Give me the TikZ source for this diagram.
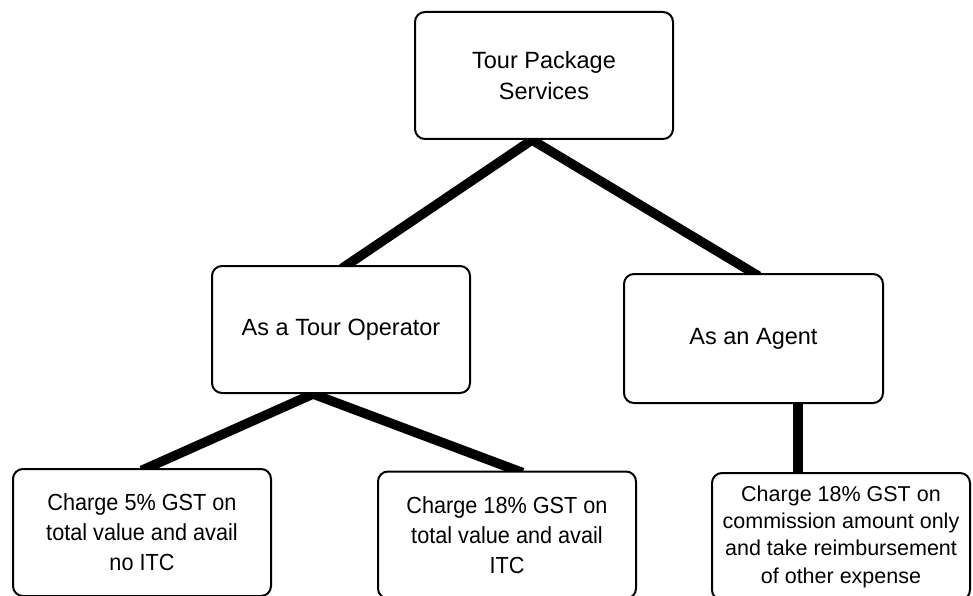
\documentclass[tikz,border=0pt]{standalone}
\usepackage{fontspec}
\setmainfont{Liberation Sans}
\newfontfamily\narrowfont[FakeStretch=0.93]{Liberation Sans}
\usetikzlibrary{backgrounds}

\tikzset{
  box/.style={draw=black, line width=2pt, rounded corners=10pt, fill=white,
    minimum width=258pt, minimum height=127pt, align=center, inner sep=0pt},
  link/.style={line width=9.5pt, shorten <=-6pt, shorten >=-6pt}
}

\begin{document}
\begin{tikzpicture}[x=1pt, y=-1pt]
\useasboundingbox (0,0) rectangle (973,596);

\node (tour) at (544,75.5) [box, font=\fontsize{23.5}{30.5}\selectfont]{Tour Package\\Services};
\node (oper) at (341,329.5) [box, font=\fontsize{23.5}{30}\selectfont]{As a Tour Operator};
\node (agent) at (753.5,338.5) [box, minimum width=259pt, minimum height=129pt, font=\fontsize{23.5}{30}\selectfont]{As an Agent};

\node (five) at (142,532.5) [box, font=\narrowfont\fontsize{23.3}{30}\selectfont]{Charge 5\% GST on\\total value and avail\\no ITC};
\node (eighteen) at (507,535) [box, font=\narrowfont\fontsize{23.3}{30}\selectfont]{Charge 18\% GST on\\total value and avail\\ITC};
\node (comm) at (841,536.5) [box, font=\fontsize{21.5}{27.3}\selectfont]{Charge 18\% GST on\\commission amount only\\and take reimbursement\\of other expense};

% thick links behind the boxes
\begin{scope}[on background layer]
\draw[link] ([xshift=6pt]oper.north) -- ([xshift=-12pt]tour.south) -- (agent.north);
\draw[link] ([xshift=5pt]five.north) -- ([xshift=-28pt]oper.south) -- ([xshift=10pt]eighteen.north);
\draw[link] ([xshift=44.5pt]agent.south) -- ([xshift=-43pt]comm.north);
\end{scope}

\end{tikzpicture}
\end{document}
